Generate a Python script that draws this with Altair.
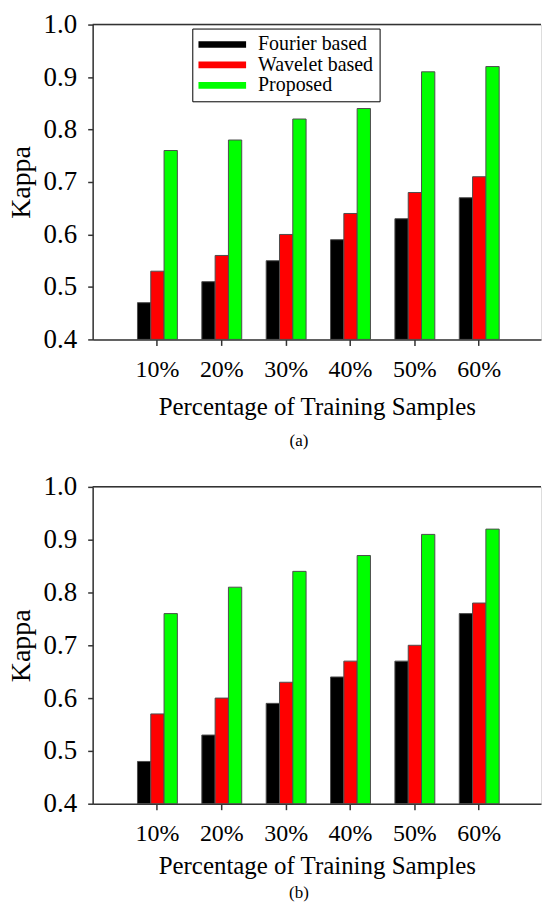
import altair as alt
import pandas as pd

categories = ["10%", "20%", "30%", "40%", "50%", "60%"]
methods = ["Fourier based", "Wavelet based", "Proposed"]
colors = ["#000000", "#ff0000", "#00ff00"]

a_fourier = [0.47, 0.51, 0.55, 0.59, 0.63, 0.67]
a_wavelet = [0.53, 0.56, 0.60, 0.64, 0.68, 0.71]
a_proposed = [0.76, 0.78, 0.82, 0.84, 0.91, 0.92]

b_fourier = [0.48, 0.53, 0.59, 0.64, 0.67, 0.76]
b_wavelet = [0.57, 0.60, 0.63, 0.67, 0.70, 0.78]
b_proposed = [0.76, 0.81, 0.84, 0.87, 0.91, 0.92]

y_ticks = [0.4, 0.5, 0.6, 0.7, 0.8, 0.9, 1.0]
y_base = 0.4

FONT = "Liberation Serif, Times New Roman, DejaVu Serif, serif"
W = 450
AX = "#333333"


def long_df(f, w, p):
    rows = []
    for series, vals in zip(methods, [f, w, p]):
        for c, v in zip(categories, vals):
            rows.append({"cat": c, "method": series, "value": v})
    return pd.DataFrame(rows)


def panel(df, caption, h, lx, ly, lfont, lsize, lpad, lrow, loff, path, tpad, coff):
    bars = alt.Chart(df).mark_bar(stroke="#4d4d4d", strokeWidth=1).encode(
        x=alt.X("cat:N", sort=categories,
                scale=alt.Scale(paddingInner=0, paddingOuter=0.483, align=0.524),
                axis=alt.Axis(title="Percentage of Training Samples", labelAngle=0,
                              labelFont=FONT, labelFontSize=24, labelColor="black",
                              labelPadding=12, tickSize=6, tickWidth=1.5, tickColor=AX,
                              domainColor=AX, domainWidth=1.5,
                              titleFont=FONT, titleFontSize=25, titleFontWeight="normal",
                              titleColor="black", titlePadding=tpad)),
        xOffset=alt.XOffset("method:N", sort=methods,
                            scale=alt.Scale(paddingInner=0, paddingOuter=0.92)),
        y=alt.Y("value:Q", scale=alt.Scale(domain=[0.4, 1.0], zero=False),
                axis=alt.Axis(values=y_ticks, format=".1f", title="Kappa", grid=False,
                              labelFont=FONT, labelFontSize=27, labelColor="black",
                              labelPadding=11, tickSize=5, tickWidth=1.5, tickColor=AX,
                              domainColor=AX, domainWidth=1.5,
                              titleFont=FONT, titleFontSize=28, titleFontWeight="normal",
                              titleColor="black", titlePadding=8)),
        y2=alt.datum(y_base),
        color=alt.Color("method:N", sort=methods,
                        scale=alt.Scale(domain=methods, range=colors),
                        legend=alt.Legend(title=None, orient="none", legendX=lx, legendY=ly,
                                          symbolType=path, symbolSize=lsize,
                                          symbolStrokeWidth=0, symbolOpacity=1,
                                          labelFont=FONT, labelFontSize=lfont,
                                          labelColor="black", labelOffset=loff,
                                          strokeColor="black", fillColor="white",
                                          padding=lpad, clipHeight=20, rowPadding=lrow)),
    )
    top = alt.Chart(pd.DataFrame({"k": [0]})).mark_rule(color=AX, strokeWidth=1.5).encode(
        x=alt.value(0), x2=alt.value(W), y=alt.value(0)
    )
    return alt.layer(bars, top).properties(
        width=W, height=h,
        title=alt.Title(caption, orient="bottom", anchor="middle", font=FONT, fontSize=17,
                        fontWeight="normal", color="black", dx=-18, offset=coff),
    )


pa = panel(long_df(a_fourier, a_wavelet, a_proposed), "(a)", 316,
           100, 4, 20, 2304, 6, 0.5, 12, "M-1,-0.14L1,-0.14L1,0.14L-1,0.14Z", 13, 14)
pb = panel(long_df(b_fourier, b_wavelet, b_proposed), "(b)", 318,
           109, 10, 17, 1444, 4, 0, 10, "M-1,-0.18L1,-0.18L1,0.18L-1,0.18Z", 8, 7)

chart = alt.vconcat(pa, pb, spacing=148, bounds="flush").properties(
    padding={"left": 6, "top": 8, "right": 0, "bottom": 0}
).configure_view(stroke=None).configure(background="white")

chart.save("out.html", embed_options={"renderer": "svg", "actions": False})
